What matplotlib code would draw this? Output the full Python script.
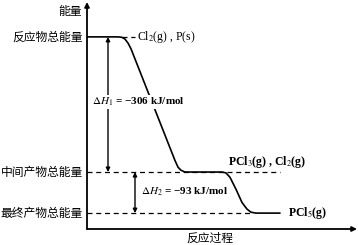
import matplotlib
matplotlib.use("Agg")
import matplotlib.pyplot as plt

plt.rcParams['font.family'] = ['Noto Sans CJK SC', 'DejaVu Sans']
plt.rcParams['mathtext.fontset'] = 'stix'

# energy levels (kJ/mol, relative to reactants)
e_react = 0
e_mid = -306
e_final = -399
dh1 = "−306"
dh2 = "−93"

level_names = ["反应物总能量", "中间产物总能量", "最终产物总能量"]

# reaction path (progress, energy)
path_x = [0, 31, 35, 38, 41, 44, 88, 91, 94, 98, 135, 139, 143, 149, 155, 160, 164, 169, 193]
path_e = [0, 0, -1, -5, -14, -27, -280, -295, -302, -306, -306, -308, -318, -345, -375, -390, -397, -399, -399]

fig = plt.figure(figsize=(3.58, 2.45), dpi=100)
ax = fig.add_axes([87 / 358, 16 / 245, 271 / 358, 227 / 245])
ax.set_xlim(0, 271)
ax.set_ylim(-435, 79)
ax.axis('off')

# axes with arrows
ax.annotate('', xy=(0, 79), xytext=(0, -435),
            arrowprops=dict(arrowstyle='-|>', color='k', lw=1.3, mutation_scale=7,
                            shrinkA=0, shrinkB=0), annotation_clip=False)
ax.annotate('', xy=(270, -435), xytext=(0, -435),
            arrowprops=dict(arrowstyle='-|>', color='k', lw=1.3, mutation_scale=7,
                            shrinkA=0, shrinkB=0), annotation_clip=False)

ax.plot(path_x, path_e, color='k', lw=1.2, solid_capstyle='round')

# dashed levels
ax.plot([35, 48], [e_react, e_react], 'k--', lw=0.9, dashes=(4, 3))
ax.plot([0, 193], [e_mid, e_mid], 'k--', lw=0.9, dashes=(4, 3))
ax.plot([0, 163], [e_final, e_final], 'k--', lw=0.9, dashes=(4, 3))

# enthalpy arrows
arr = dict(arrowstyle='<|-|>', color='k', lw=1.0, mutation_scale=6, shrinkA=0, shrinkB=0)
ax.annotate('', xy=(21, e_react), xytext=(21, e_mid), arrowprops=arr)
ax.annotate('', xy=(48, e_mid), xytext=(48, e_final), arrowprops=arr)

serif = ['Liberation Serif', 'DejaVu Serif']
ax.text(5, -147, r"$\Delta H_1$" + " = " + dh1 + " kJ/mol", fontsize=8, family=serif,
        fontweight='bold', va='center', ha='left',
        bbox=dict(facecolor='white', edgecolor='none', pad=0.5))
ax.text(54, -351, r"$\Delta H_2$" + " = " + dh2 + " kJ/mol", fontsize=8, family=serif,
        fontweight='bold', va='center', ha='left')

ax.text(50, e_react, r"Cl$_2$(g) , P(s)", fontsize=8.5, family=serif, va='center', ha='left')
ax.text(141, -283, r"PCl$_3$(g) , Cl$_2$(g)", fontsize=8.5, family=serif,
        fontweight='bold', va='center', ha='left')
ax.text(201, e_final, r"PCl$_5$(g)", fontsize=8.5, family=serif,
        fontweight='bold', va='center', ha='left')

# chinese labels
for name, e in zip(level_names, [e_react, e_mid, e_final]):
    ax.text(-4, e, name, fontsize=8.5, va='center', ha='right', clip_on=False)
ax.text(-5, 57, "能量", fontsize=8.5, va='center', ha='right', clip_on=False)
ax.text(123, -456, "反应过程", fontsize=8.5, va='center', ha='center', clip_on=False)

fig.savefig("out.png", dpi=100)
